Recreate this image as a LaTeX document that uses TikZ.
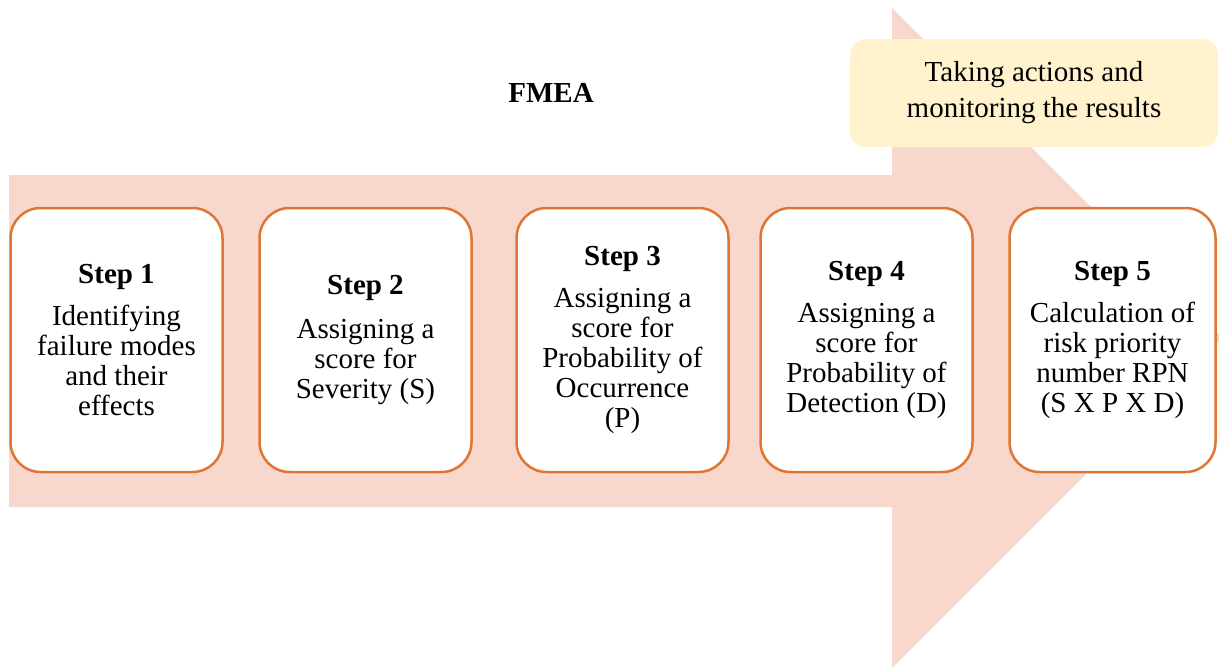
\documentclass[tikz,border=0pt]{standalone}
\usepackage{fontspec}
\setmainfont{LiberationSerif}[Extension=.ttf,UprightFont=*-Regular,BoldFont=*-Bold,ItalicFont=*-Italic,BoldItalicFont=*-BoldItalic]
\usepackage{tikz}
\usetikzlibrary{positioning,shapes}

\definecolor{arrowfill}{HTML}{F8D8CD}
\definecolor{stepline}{HTML}{E07634}
\definecolor{actionfill}{HTML}{FFF2CC}

\begin{document}
\begin{tikzpicture}[x=1pt,y=-1pt]
	\tikzset{
		stepnode/.style={rectangle,rounded corners=30pt,draw=stepline,fill=white,line width=2.5pt,minimum width=212pt,minimum height=264pt,inner sep=2pt,align=center,font=\fontsize{29}{30}\selectfont},
		actionnode/.style={rectangle,rounded corners=16pt,fill=actionfill,minimum width=368pt,minimum height=108pt,align=center,font=\fontsize{29}{36}\selectfont},
		titlelabel/.style={text centered,font=\fontsize{29}{30}\selectfont\bfseries}
	}
	\useasboundingbox (0,0) rectangle (1219,670);
	\clip (0,0) rectangle (1219,670);
	\fill[arrowfill] (9,175) -- (892,175) -- (892,8) -- (1222,338) -- (892,668) -- (892,507) -- (9,507) -- cycle;
	\node[titlelabel] (fmea) at (551,93) {FMEA};
	\node[actionnode] (actions) at (1034,93) {Taking actions and\\monitoring the results};
	\node[stepnode] (step1) at (116.5,340) {\textbf{Step 1}\\[12pt]Identifying\\failure modes\\and their\\effects};
	\node[stepnode, right=34.5pt of step1] (step2) {\textbf{Step 2}\\[14pt]Assigning a\\score for\\Severity (S)};
	\node[stepnode, right=42.5pt of step2] (step3) {\textbf{Step 3}\\[12pt]Assigning a\\score for\\Probability of\\Occurrence\\(P)};
	\node[stepnode, right=29.5pt of step3] (step4) {\textbf{Step 4}\\[12pt]Assigning a\\score for\\Probability of\\Detection (D)};
	\node[stepnode, right=34.5pt of step4, minimum width=206pt] (step5) {\textbf{Step 5}\\[12pt]Calculation of\\risk priority\\number RPN\\(S X P X D)};
\end{tikzpicture}
\end{document}
